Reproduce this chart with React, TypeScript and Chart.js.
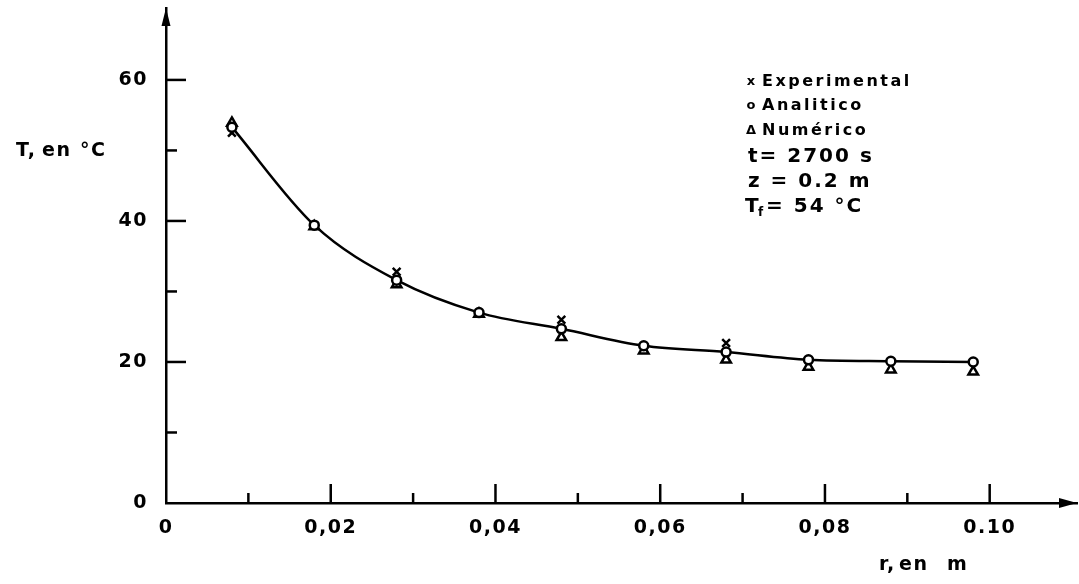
import React, { useEffect, useRef } from "react";
import { Chart, registerables } from "chart.js";

Chart.register(...registerables);

// r positions (m)
const radii = [0.008, 0.018, 0.028, 0.038, 0.048, 0.058, 0.068, 0.078, 0.088, 0.098];
// Analytic temperatures (°C)
const analytic = [53.3, 39.4, 31.6, 27.0, 24.7, 22.3, 21.4, 20.3, 20.1, 20.0];
// Numerical temperatures (°C)
const numeric = [53.9, 39.2, 31.0, 26.8, 23.5, 21.6, 20.3, 19.3, 18.9, 18.6];
// Experimental
const expRadii = [0.008, 0.028, 0.048, 0.068];
const experimental = [52.5, 32.8, 26.0, 22.7];

const xTickLabels = ["0", "0,02", "0,04", "0,06", "0,08", "0.10"];
const yTickLabels = ["0", "20", "40", "60"];

const legendLines = ["Experimental", "Analitico", "Numérico"];
const infoLines = ["t= 2700 s", "z = 0.2 m"];

const FONT = "'DejaVu Sans', sans-serif";

const zeroPad = (s: any) => {
  s.paddingTop = 0;
  s.paddingBottom = 0;
  s.paddingLeft = 0;
  s.paddingRight = 0;
};

const decorPlugin = {
  id: "decor",
  beforeDraw(chart: any) {
    chart.ctx.letterSpacing = "1.5px";
  },
  afterDraw(chart: any) {
    const ctx = chart.ctx;
    const xs = chart.scales.x;
    const ys = chart.scales.y;
    const x0 = xs.getPixelForValue(0);
    const y0 = ys.getPixelForValue(0);
    const top = chart.chartArea.top;
    const right = chart.chartArea.right;
    ctx.save();
    ctx.strokeStyle = "#000";
    ctx.fillStyle = "#000";
    ctx.lineWidth = 2.5;
    ctx.lineCap = "butt";
    // inward x ticks
    for (let i = 1; i <= 10; i++) {
      const px = xs.getPixelForValue(i / 100);
      const len = i % 2 === 0 ? 19 : 10;
      ctx.beginPath();
      ctx.moveTo(px, y0);
      ctx.lineTo(px, y0 - len);
      ctx.stroke();
    }
    // inward y ticks
    for (let v = 10; v <= 60; v += 10) {
      const py = ys.getPixelForValue(v);
      const len = v % 20 === 0 ? 20 : 11;
      ctx.beginPath();
      ctx.moveTo(x0, py);
      ctx.lineTo(x0 + len, py);
      ctx.stroke();
    }
    // arrow heads
    ctx.beginPath();
    ctx.moveTo(x0, top);
    ctx.lineTo(x0 - 4.5, top + 18);
    ctx.lineTo(x0 + 4.5, top + 18);
    ctx.closePath();
    ctx.fill();
    ctx.beginPath();
    ctx.moveTo(right, y0);
    ctx.lineTo(right - 18, y0 - 5);
    ctx.lineTo(right - 18, y0 + 5);
    ctx.closePath();
    ctx.fill();

    // text
    ctx.textBaseline = "middle";
    ctx.textAlign = "left";
    // y title
    ctx.letterSpacing = "1.5px";
    ctx.font = `bold 19px ${FONT}`;
    ctx.fillText("T,", 16, 151);
    ctx.fillText("en", 42, 151);
    ctx.fillText("°C", 80, 151);
    // x title
    ctx.fillText("r,", 879, 565);
    ctx.fillText("en", 899, 565);
    ctx.fillText("m", 947, 565);

    // legend
    const symbols = ["x", "o", "Δ"];
    const ly = [82, 106, 131];
    for (let i = 0; i < 3; i++) {
      ctx.letterSpacing = "0px";
      ctx.font = `bold 13px ${FONT}`;
      ctx.textAlign = "center";
      ctx.fillText(symbols[i], 751, ly[i]);
      ctx.textAlign = "left";
      ctx.letterSpacing = "2.5px";
      ctx.font = `bold 16px ${FONT}`;
      ctx.fillText(legendLines[i], 762, ly[i]);
    }
    ctx.letterSpacing = "2px";
    ctx.font = `bold 20px ${FONT}`;
    ctx.fillText(infoLines[0], 748, 157);
    ctx.fillText(infoLines[1], 748, 182);
    ctx.fillText("T", 745, 207);
    ctx.font = `bold 12px ${FONT}`;
    ctx.letterSpacing = "0px";
    ctx.fillText("f", 758, 213);
    ctx.letterSpacing = "2px";
    ctx.font = `bold 20px ${FONT}`;
    ctx.fillText("= 54 °C", 766, 207);
    ctx.restore();
    ctx.letterSpacing = "0px";
  },
};

export default function App() {
  const ref = useRef<HTMLCanvasElement | null>(null);
  useEffect(() => {
    if (!ref.current) return;
    const chart = new Chart(ref.current, {
      type: "scatter",
      data: {
        datasets: [
          {
            label: "Analitico",
            data: radii.map((r, i) => ({ x: r, y: analytic[i] })),
            showLine: true,
            borderColor: "#000",
            borderWidth: 2.5,
            tension: 0.4,
            cubicInterpolationMode: "monotone",
            pointStyle: "circle",
            pointRadius: 4.5,
            pointBorderWidth: 2.5,
            pointBorderColor: "#000",
            pointBackgroundColor: "#fff",
          },
          {
            label: "Numérico",
            data: radii.map((r, i) => ({ x: r, y: numeric[i] })),
            showLine: false,
            pointStyle: "triangle",
            pointRadius: 5.5,
            pointBorderWidth: 2.5,
            pointBorderColor: "#000",
            pointBackgroundColor: "#fff",
          },
          {
            label: "Experimental",
            data: expRadii.map((r, i) => ({ x: r, y: experimental[i] })),
            showLine: false,
            pointStyle: "crossRot",
            pointRadius: 5.5,
            pointBorderWidth: 2.5,
            pointBorderColor: "#000",
          },
        ],
      },
      options: {
        animation: false,
        responsive: true,
        maintainAspectRatio: false,
        layout: { autoPadding: false, padding: { top: 8, right: 2, left: 0, bottom: 0 } },
        plugins: { legend: { display: false }, tooltip: { enabled: false } },
        scales: {
          x: {
            type: "linear",
            min: 0,
            max: 0.1106,
            afterFit: (s: any) => {
              s.height = 81;
              zeroPad(s);
            },
            border: { color: "#000", width: 2.5 },
            grid: { display: true, drawOnChartArea: false, drawTicks: false },
            ticks: {
              stepSize: 0.01,
              autoSkip: false,
              maxRotation: 0,
              padding: 14,
              color: "#000",
              font: { family: FONT, size: 19, weight: "bold" },
              callback: (v: any) => {
                const i = Math.round(Number(v) * 100);
                if (Math.abs(Number(v) * 100 - i) > 1e-6) return "";
                if (i % 2 === 0 && i <= 10) return xTickLabels[i / 2];
                return "";
              },
            },
          },
          y: {
            type: "linear",
            min: 0,
            max: 70.2,
            afterFit: (s: any) => {
              s.width = 166;
              zeroPad(s);
            },
            border: { color: "#000", width: 2.5 },
            grid: { display: true, drawOnChartArea: false, drawTicks: false },
            ticks: {
              stepSize: 10,
              autoSkip: false,
              padding: 18,
              color: "#000",
              font: { family: FONT, size: 19, weight: "bold" },
              callback: (v: any) => {
                const n = Number(v);
                if (Math.abs(n - Math.round(n)) > 1e-6) return "";
                if (n % 20 === 0 && n <= 60) return yTickLabels[n / 20];
                return "";
              },
            },
          },
        },
      },
      plugins: [decorPlugin],
    });
    return () => chart.destroy();
  }, []);
  return (
    <div style={{ position: "fixed", left: 0, top: 0, width: 1079, height: 584, background: "#fff" }}>
      <canvas ref={ref} />
    </div>
  );
}
